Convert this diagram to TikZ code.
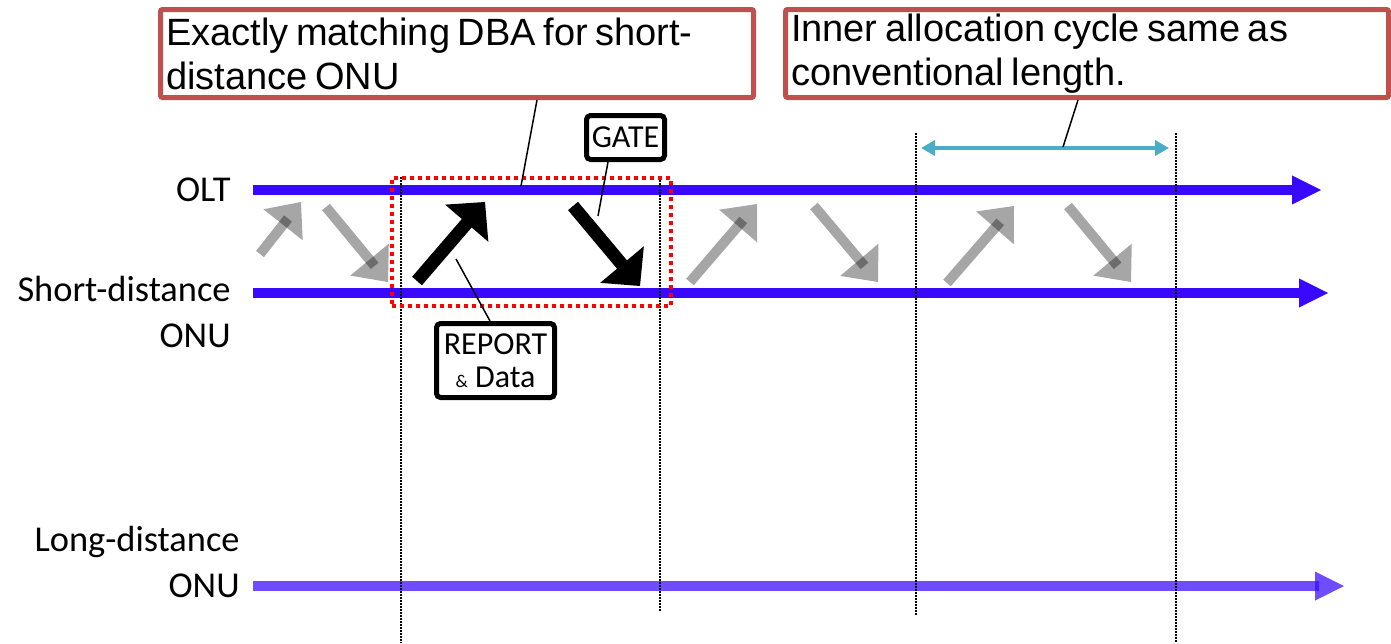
\documentclass[tikz,border=0pt]{standalone}
\usepackage{fontspec}
\setmainfont{Carlito}
\newfontfamily\calloutfont{Liberation Sans}
\usetikzlibrary{arrows.meta,calc}

\definecolor{lineblue}{RGB}{56,8,255}
\definecolor{calloutred}{RGB}{192,80,77}
\definecolor{spanteal}{RGB}{75,172,198}

% narrower word spaces for the callout text
\newcommand\tightspaces{\spaceskip=0.2em\relax}

% block arrow: #1 style, #2 tail, #3 tip, #4 shaft width,
% #5 head length, #6 head width, #7 distance of shaft end from tip
\newcommand\blockarrow[7]{%
  \coordinate (hb) at ($(#3)!#5!(#2)$);
  \coordinate (se) at ($(#3)!#7!(#2)$);
  \draw[#1, line width=#4] (#2) -- (se);
  \fill[#1] (#3) -- ($(hb)!#6/2!90:(#3)$) -- ($(hb)!#6/2!-90:(#3)$) -- cycle;
}

\begin{document}
\begin{tikzpicture}[x=0.5pt, y=-0.5pt,
  lbl/.style={inner sep=0pt, font=\fontsize{18.2}{22.75}\selectfont, align=right},
  grayarr/.style={black, opacity=0.35},
  blackarr/.style={black},
  timeline/.style={lineblue},
  farline/.style={lineblue, opacity=0.72},
  vline/.style={black, line width=0.6pt, dash pattern=on 0.75pt off 0.75pt},
  focusbox/.style={draw=red, line width=2pt, dash pattern=on 2pt off 2pt},
  callout/.style={draw=calloutred, line width=2.5pt, rounded corners=1pt,
    inner xsep=2.75pt, inner ysep=0pt, align=left,
    font=\calloutfont\fontsize{19}{22}\selectfont},
  msgbox/.style={draw=black, line width=2.5pt, rounded corners=2pt,
    inner sep=0pt, align=center, font=\fontsize{16}{16.5}\selectfont},
  leader/.style={black, line width=0.75pt},
  spanarrow/.style={spanteal, line width=2pt,
    {Triangle[length=7pt,width=7.5pt]}-{Triangle[length=7pt,width=7.5pt]}}
]
\useasboundingbox (0,0) rectangle (1391,643);

% row labels (base anchor sits on the last line)
\node[lbl, anchor=base east] (olt) at (231,201) {OLT};
\node[lbl, anchor=base east] (sonu) at (231,347) {Short-distance\\ONU};
\node[lbl, anchor=base east] (lonu) at (240,597) {Long-distance\\ONU};

% time axes
\coordinate (oltS) at (253,190);   \coordinate (oltE) at (1321,190);
\coordinate (sS) at (253,293);     \coordinate (sE) at (1328,293);
\coordinate (lS) at (253,586);     \coordinate (lE) at (1344,586);
\blockarrow{timeline}{oltS}{oltE}{5pt}{14.5pt}{14.5pt}{14.5pt}
\blockarrow{timeline}{sS}{sE}{5pt}{14.5pt}{14.5pt}{14.5pt}
\blockarrow{farline}{lS}{lE}{5pt}{14.5pt}{14.5pt}{12.5pt}

% cycle boundaries
\coordinate (v1t) at (401,177);  \coordinate (v1b) at (401,643);
\coordinate (v2t) at (660,177);  \coordinate (v2b) at (660,612);
\coordinate (v3t) at (916,133);  \coordinate (v3b) at (916,615);
\coordinate (v4t) at (1176,133); \coordinate (v4b) at (1176,643);
\draw[vline] (v1t) -- (v1b);
\draw[vline] (v2t) -- (v2b);
\draw[vline] (v3t) -- (v3b);
\draw[vline] (v4t) -- (v4b);

% highlighted cycle
\node[focusbox, inner sep=0pt, minimum width=139.5pt, minimum height=64pt]
  (focus) at (531.5,242) {};

% grey REPORT / GATE exchanges
\coordinate (g1a) at (260,254);  \coordinate (g1b) at (301,202);
\coordinate (g2a) at (326,207);  \coordinate (g2b) at (388,282);
\coordinate (g3a) at (690,282);  \coordinate (g3b) at (757,204);
\coordinate (g4a) at (814,206);  \coordinate (g4b) at (878,282);
\coordinate (g5a) at (947,283);  \coordinate (g5b) at (1014,206);
\coordinate (g6a) at (1068,206); \coordinate (g6b) at (1131,282);
\blockarrow{grayarr}{g1a}{g1b}{5pt}{14.5pt}{25pt}{10.5pt}
\blockarrow{grayarr}{g2a}{g2b}{5pt}{14.5pt}{25pt}{10.5pt}
\blockarrow{grayarr}{g3a}{g3b}{5pt}{14.5pt}{25pt}{10.5pt}
\blockarrow{grayarr}{g4a}{g4b}{5pt}{14.5pt}{25pt}{10.5pt}
\blockarrow{grayarr}{g5a}{g5b}{5pt}{14.5pt}{25pt}{10.5pt}
\blockarrow{grayarr}{g6a}{g6b}{5pt}{14.5pt}{25pt}{10.5pt}

% matched exchange
\coordinate (b1a) at (417,281);  \coordinate (b1b) at (485,202);
\coordinate (b2a) at (573,206);  \coordinate (b2b) at (640,286);
\blockarrow{blackarr}{b1a}{b1b}{6.5pt}{14pt}{28.5pt}{12pt}
\blockarrow{blackarr}{b2a}{b2b}{6.5pt}{14pt}{28.5pt}{12pt}

% message labels
\node[msgbox, minimum width=39pt, minimum height=22pt] (gate) at (625.5,137.5) {GATE};
\node[msgbox, minimum width=59pt, minimum height=37pt] (report) at (495.5,360.5)
  {REPORT\\{\fontsize{9}{9}\selectfont\&} Data};
\coordinate (gateL) at (608,162);   \coordinate (gateT) at (598,216);
\coordinate (repL) at (490,321);    \coordinate (repT) at (456,259);
\draw[leader] (gateL) -- (gateT);
\draw[leader] (repL) -- (repT);

% inner cycle span
\coordinate (cyc1) at (921,148); \coordinate (cyc2) at (1169,148);
\draw[spanarrow] (cyc1) -- (cyc2);

% callouts
\node[callout, text width=291pt, minimum height=44pt] (c1) at (457,53.5)
  {\tightspaces Exactly matching DBA for short-\\distance ONU};
\node[callout, text width=296pt, minimum height=44pt] (c2) at (1087,53.5)
  {\tightspaces Inner allocation cycle same as\\conventional length.};
\coordinate (c1L) at (537,100);  \coordinate (c1T) at (521,186);
\coordinate (c2L) at (1078,100); \coordinate (c2T) at (1063,147);
\draw[leader] (c1L) -- (c1T);
\draw[leader] (c2L) -- (c2T);
\end{tikzpicture}
\end{document}
